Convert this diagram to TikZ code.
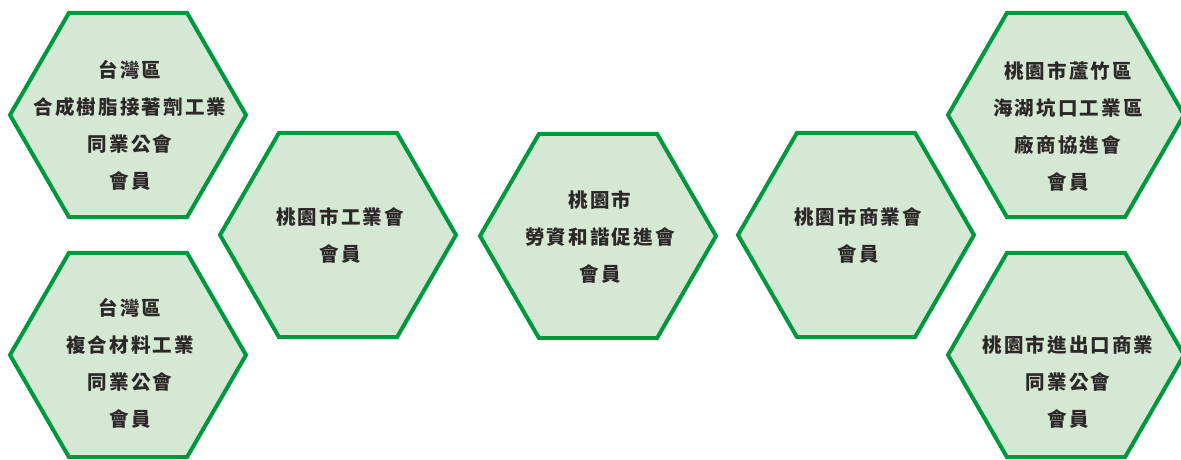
\documentclass[tikz,border=0pt]{standalone}
\usepackage{fontspec}
\usetikzlibrary{shapes.geometric}
\newfontfamily\cjk[LetterSpace=11]{Noto Sans CJK TC}
\definecolor{hexfill}{RGB}{213,232,212}
\definecolor{hexline}{RGB}{0,152,62}
\definecolor{txt}{RGB}{45,40,40}
\begin{document}
\begin{tikzpicture}[x=1pt,y=-1pt,
  hex/.style={regular polygon, regular polygon sides=6, minimum size=236pt,
    inner sep=0pt, outer sep=0pt, draw=hexline, fill=hexfill, line width=4pt},
  lbl/.style={align=center, text=txt, inner sep=0pt,
    font=\cjk\bfseries\fontsize{19.5}{37}\selectfont}]
\useasboundingbox (0,0) rectangle (1181,459);
\node[hex] (h1) at (128,115) {};
\node[hex] (h2) at (128,355) {};
\node[hex] (h3) at (338,235) {};
\node[hex] (h4) at (598,236) {};
\node[hex] (h5) at (856,235) {};
\node[hex] (h6) at (1066,115) {};
\node[hex] (h7) at (1066,355) {};
\node[lbl] (t1) at (130,125) {台灣區\\合成樹脂接著劑工業\\同業公會\\會員};
\node[lbl] (t2) at (130,363) {台灣區\\複合材料工業\\同業公會\\會員};
\node[lbl] (t3) at (340,235) {桃園市工業會\\會員};
\node[lbl] (t4) at (600,237) {桃園市\\勞資和諧促進會\\會員};
\node[lbl] (t5) at (858,235) {桃園市商業會\\會員};
\node[lbl] (t6) at (1068,126) {桃園市蘆竹區\\海湖坑口工業區\\廠商協進會\\會員};
\node[lbl] (t7) at (1068,382) {桃園市進出口商業\\同業公會\\會員};
\end{tikzpicture}
\end{document}
